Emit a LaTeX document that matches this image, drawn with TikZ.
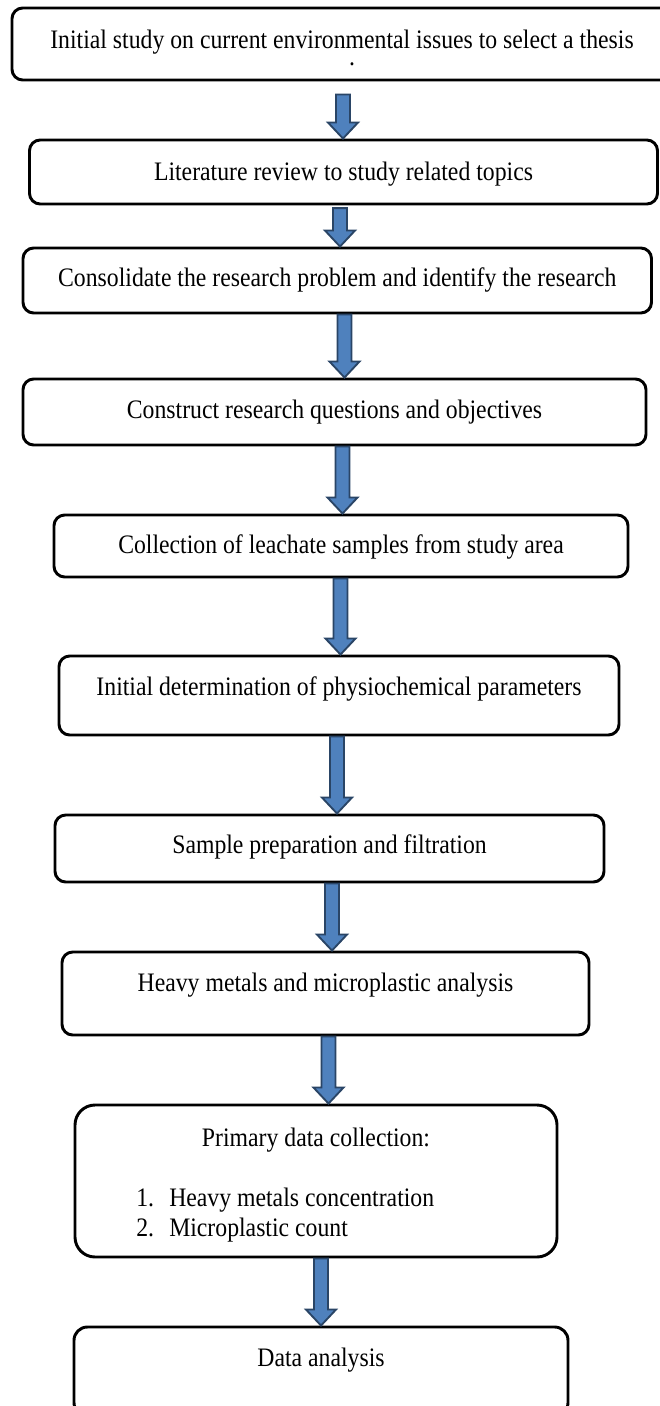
\documentclass[tikz,border=0pt]{standalone}
\usepackage{fontspec}
\setmainfont{Liberation Serif}[FakeStretch=0.89]
\usetikzlibrary{calc}
\definecolor{arrowfill}{HTML}{4F81BD}
\definecolor{arrowline}{HTML}{2A4566}
\tikzset{
	box/.style={draw, line width=2.2pt, rounded corners=8pt, inner sep=0pt, text height=13.2pt, font=\fontsize{20}{24}\selectfont},
	blockarrow/.style={fill=arrowfill, draw=arrowline, line width=1.4pt, line join=miter},
	plain/.style={inner sep=0pt, font=\fontsize{20}{24}\selectfont}
}
% block arrow: shaft x, start, tip
\newcommand{\flowarrow}[3]{%
	\draw[blockarrow] let \p1=(#1,0), \p2=(#2), \p3=(#3) in
	(\x1-5.25pt,\y2) -- (\x1+5.25pt,\y2) -- (\x1+5.25pt,\y3+12pt) -- (\x1+11.25pt,\y3+12pt)
	-- (\x1,\y3) -- (\x1-11.25pt,\y3+12pt) -- (\x1-5.25pt,\y3+12pt) -- cycle;}
\begin{document}
\begin{tikzpicture}[x=0.75pt, y=-0.75pt, line join=round]
		\clip (0,0) rectangle (660,1406);
		\fill[white] (0,0) rectangle (660,1406);
		\node[box, minimum width=495pt, minimum height=54pt, text depth=6pt] (b1) at (342,44)
		{Initial study on current environmental issues to select a thesis};
		\node[plain] (dot) at (352,64) {.};
		\node[box, minimum width=471pt, minimum height=48pt, text depth=0pt] (b2) at (343.5,172)
		{Literature review to study related topics};
		\node[box, minimum width=471.4pt, minimum height=48.75pt, text depth=3.75pt] (b3) at (337.25,280.5)
		{Consolidate the research problem and identify the research};
		\node[box, minimum width=467.25pt, minimum height=49.5pt, text depth=3pt] (b4) at (334.5,412)
		{Construct research questions and objectives};
		\node[box, minimum width=430.5pt, minimum height=46.5pt, text depth=1.5pt] (b5) at (341,546)
		{Collection of leachate samples from study area};
		\node[box, minimum width=420pt, minimum height=59.25pt, text depth=12.75pt] (b6) at (339,695.5)
		{Initial determination of physiochemical parameters};
		\node[box, minimum width=411.75pt, minimum height=50.25pt, text depth=5.25pt] (b7) at (329.5,848.5)
		{Sample preparation and filtration};
		\node[box, minimum width=395.25pt, minimum height=62.25pt, text depth=15.75pt] (b8) at (325.5,993.5)
		{Heavy metals and microplastic analysis};
		\node[box, rounded corners=15pt, minimum width=361.5pt, minimum height=114pt, text depth=64.5pt] (b9) at (316,1181)
		{Primary data collection:};
		\node[plain, anchor=west, align=left, font=\fontsize{20}{22.5}\selectfont] (list) at (136,1215)
		{\makebox[24.75pt][l]{1.}Heavy metals concentration\\\makebox[24.75pt][l]{2.}Microplastic count};
		\node[box, rounded corners=10pt, minimum width=370.5pt, minimum height=66.75pt, text depth=20.25pt] (b10) at (321,1371.5)
		{Data analysis};
		% arrows between the steps
		\flowarrow{343}{[yshift=-9.75pt]b1.south}{b2.north}
		\flowarrow{340}{[yshift=-2pt]b2.south}{b3.north}
		\flowarrow{344.5}{b3.south}{b4.north}
		\flowarrow{342.5}{b4.south}{b5.north}
		\flowarrow{340.5}{b5.south}{b6.north}
		\flowarrow{337}{b6.south}{b7.north}
		\flowarrow{332}{b7.south}{b8.north}
		\flowarrow{328.5}{b8.south}{b9.north}
		\flowarrow{321}{b9.south}{b10.north}
	\end{tikzpicture}
\end{document}
